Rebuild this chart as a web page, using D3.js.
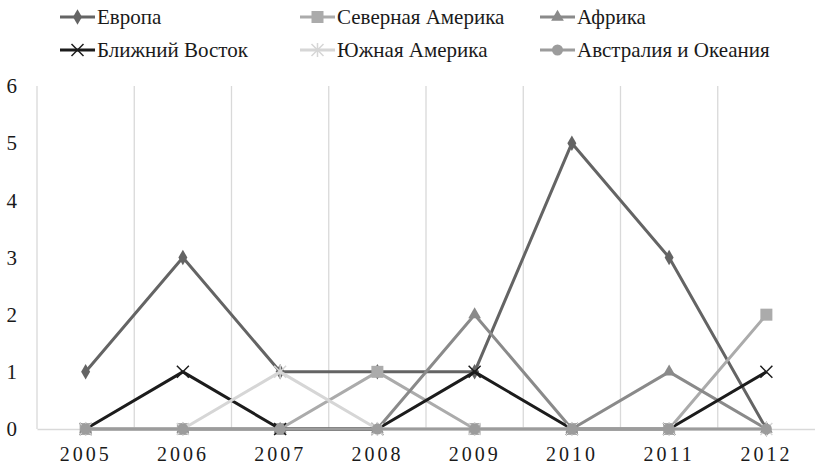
<!DOCTYPE html>
<html>
<head>
<meta charset="utf-8">
<script src="https://cdn.jsdelivr.net/npm/d3@7"></script>
<style>
  body { margin: 0; background: #fff; }
  svg { display: block; font-family: "Liberation Serif", "Times New Roman", serif; }
</style>
</head>
<body>
<div id="chart"></div>
<script>
// data
var years = ["2005", "2006", "2007", "2008", "2009", "2010", "2011", "2012"];
var europe      = [1, 3, 1, 1, 1, 5, 3, 0];
var northAm     = [0, 0, 0, 1, 0, 0, 0, 2];
var africa      = [0, 0, 0, 0, 2, 0, 1, 0];
var middleEast  = [0, 1, 0, 0, 1, 0, 0, 1];
var southAm     = [0, 0, 1, 0, 0, 0, 0, 0];
var australia   = [0, 0, 0, 0, 0, 0, 0, 0];
var yTicks = [0, 1, 2, 3, 4, 5, 6];

var series = [
  {name: "Европа", values: europe, color: "#646464", marker: "diamond"},
  {name: "Северная Америка", values: northAm, color: "#ababab", marker: "square"},
  {name: "Африка", values: africa, color: "#8a8a8a", marker: "triangle"},
  {name: "Ближний Восток", values: middleEast, color: "#1c1c1c", marker: "cross"},
  {name: "Южная Америка", values: southAm, color: "#d6d6d6", marker: "star"},
  {name: "Австралия и Океания", values: australia, color: "#9c9c9c", marker: "circle"}
];

var svgWidth = 815;
var svgHeight = 466;
var margin = {top: 86, right: 0, bottom: 37, left: 37};
var width = svgWidth - margin.left - margin.right;
var height = svgHeight - margin.top - margin.bottom;

var svg = d3.select("#chart").append("svg")
  .attr("width", svgWidth)
  .attr("height", svgHeight);

var chartGroup = svg.append("g")
  .attr("transform", `translate(${margin.left}, ${margin.top})`);

var x = d3.scaleBand().domain(years).range([0, width]);
var y = d3.scaleLinear().domain([0, 6]).range([height, 0]);

// vertical grid lines at band edges
chartGroup.selectAll(".vgrid")
  .data(years)
  .enter().append("line")
  .attr("x1", d => x(d)).attr("x2", d => x(d))
  .attr("y1", 0).attr("y2", height)
  .attr("stroke", "#d9d9d9").attr("stroke-width", 1.3);

// x axis
var bottomAxis = d3.axisBottom(x).tickSize(0).tickPadding(18);
var xg = chartGroup.append("g")
  .attr("transform", `translate(0, ${height})`)
  .call(bottomAxis);
xg.select(".domain").attr("stroke", "#d9d9d9").attr("stroke-width", 1.5);
xg.selectAll("text")
  .attr("font-family", "Liberation Serif")
  .attr("font-size", 20)
  .attr("letter-spacing", 3)
  .attr("fill", "#1a1a1a");

// y axis labels only
var leftAxis = d3.axisLeft(y).tickValues(yTicks).tickFormat(d3.format("d")).tickSize(0).tickPadding(20);
var yg = chartGroup.append("g").call(leftAxis);
yg.select(".domain").remove();
yg.selectAll("text")
  .attr("font-family", "Liberation Serif")
  .attr("font-size", 21)
  .attr("fill", "#1a1a1a");

var line = d3.line()
  .x((d, i) => x(years[i]) + x.bandwidth() / 2)
  .y(d => y(d));

function drawMarker(g, type, color) {
  if (type === "diamond") {
    g.append("path").attr("d", d3.symbol(d3.symbolDiamond, 70)()).attr("fill", color);
  } else if (type === "square") {
    g.append("rect").attr("x", -6).attr("y", -6).attr("width", 12).attr("height", 12).attr("fill", color);
  } else if (type === "triangle") {
    g.append("path").attr("d", d3.symbol(d3.symbolTriangle, 70)()).attr("fill", color);
  } else if (type === "circle") {
    g.append("circle").attr("r", 5.5).attr("fill", color);
  } else if (type === "cross") {
    g.append("path").attr("d", "M-6,-6L6,6M-6,6L6,-6").attr("stroke", color).attr("stroke-width", 1.5);
  } else if (type === "star") {
    g.append("path").attr("d", "M-6,-6L6,6M-6,6L6,-6M0,-7L0,7").attr("stroke", color).attr("stroke-width", 1.5);
  }
}

series.forEach(function(s) {
  chartGroup.append("path")
    .datum(s.values)
    .attr("d", line)
    .attr("fill", "none")
    .attr("stroke", s.color)
    .attr("stroke-width", 3)
    .attr("stroke-linejoin", "round");

  s.values.forEach(function(v, i) {
    var mg = chartGroup.append("g")
      .attr("transform", `translate(${x(years[i]) + x.bandwidth() / 2}, ${y(v)})`);
    drawMarker(mg, s.marker, s.color);
  });
});

// legend, 3 columns x 2 rows
var legendX = [60, 300, 540];
var legendY = [17, 50];
series.forEach(function(s, i) {
  var lg = svg.append("g")
    .attr("transform", `translate(${legendX[i % 3]}, ${legendY[Math.floor(i / 3)]})`);
  lg.append("line")
    .attr("x1", 0).attr("x2", 35).attr("y1", 0).attr("y2", 0)
    .attr("stroke", s.color).attr("stroke-width", 3);
  var mg = lg.append("g").attr("transform", "translate(17.5,0)");
  drawMarker(mg, s.marker, s.color);
  lg.append("text")
    .attr("x", 37).attr("y", 0).attr("dy", "0.35em")
    .attr("font-size", 21)
    .attr("fill", "#1a1a1a")
    .text(s.name);
});
</script>
</body>
</html>
